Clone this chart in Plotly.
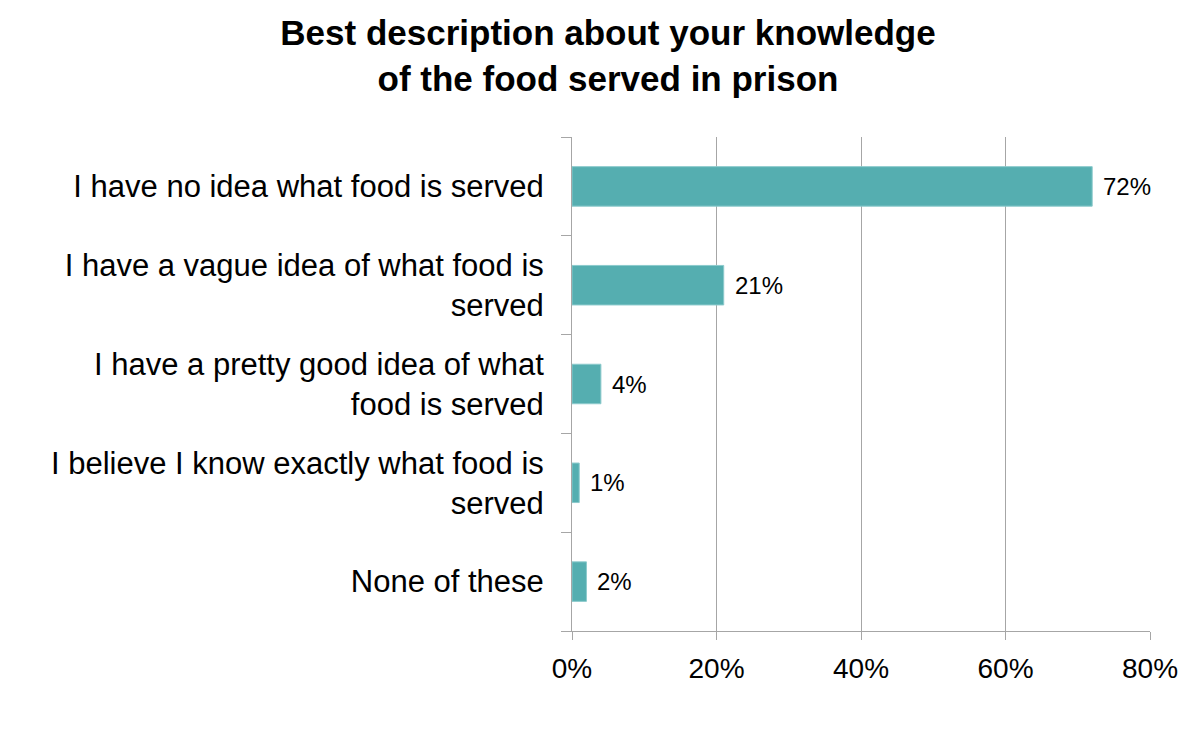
import plotly.graph_objects as go

categories = [
    "I have no idea what food is served",
    "I have a vague idea of what food is<br>served",
    "I have a pretty good idea of what<br>food is served",
    "I believe I know exactly what food is<br>served",
    "None of these",
]
values = [72, 21, 4, 1, 2]
labels = ["72%", "21%", "4%", "1%", "2%"]
x_ticks = [0, 20, 40, 60, 80]
x_tick_labels = ["0%", "20%", "40%", "60%", "80%"]

FONT = "Arial, Liberation Sans, sans-serif"

fig = go.Figure()
fig.add_trace(go.Bar(
    x=values, y=categories, orientation="h",
    marker=dict(color="#55AEB0", line=dict(color="#8CCACC", width=1)),
    width=0.4,
))

for v, c, t in zip(values, categories, labels):
    fig.add_annotation(x=v, y=c, text=t, showarrow=False, xanchor="left",
                       xshift=9, font=dict(family=FONT, size=24, color="black"))

fig.update_layout(
    width=1200, height=730,
    paper_bgcolor="white", plot_bgcolor="white",
    margin=dict(l=564, r=58, t=129, b=107),
    title=dict(text="<b>Best description about your knowledge<br>of the food served in prison</b>",
               x=0.5, xanchor="center", y=0.949, yanchor="top",
               font=dict(family=FONT, size=35, color="black")),
    showlegend=False,
    font=dict(family=FONT, color="black"),
)
fig.update_xaxes(
    range=[0, 80], tickvals=x_ticks, ticktext=x_tick_labels,
    showgrid=True, gridcolor="#A6A6A6", gridwidth=1,
    showline=True, linecolor="#A6A6A6", linewidth=1,
    ticks="outside", ticklen=8, tickcolor="#A6A6A6",
    ticklabelstandoff=4,
    tickfont=dict(size=28, family=FONT, color="black"),
    zeroline=False,
)
fig.update_yaxes(
    categoryorder="array", categoryarray=categories[::-1],
    showline=True, linecolor="#A6A6A6", linewidth=1,
    ticks="outside", ticklen=10, tickcolor="#A6A6A6", tickson="boundaries",
    ticklabelstandoff=21,
    tickfont=dict(size=31, family=FONT, color="black"),
    showgrid=False,
)
fig.write_html("out.html")
